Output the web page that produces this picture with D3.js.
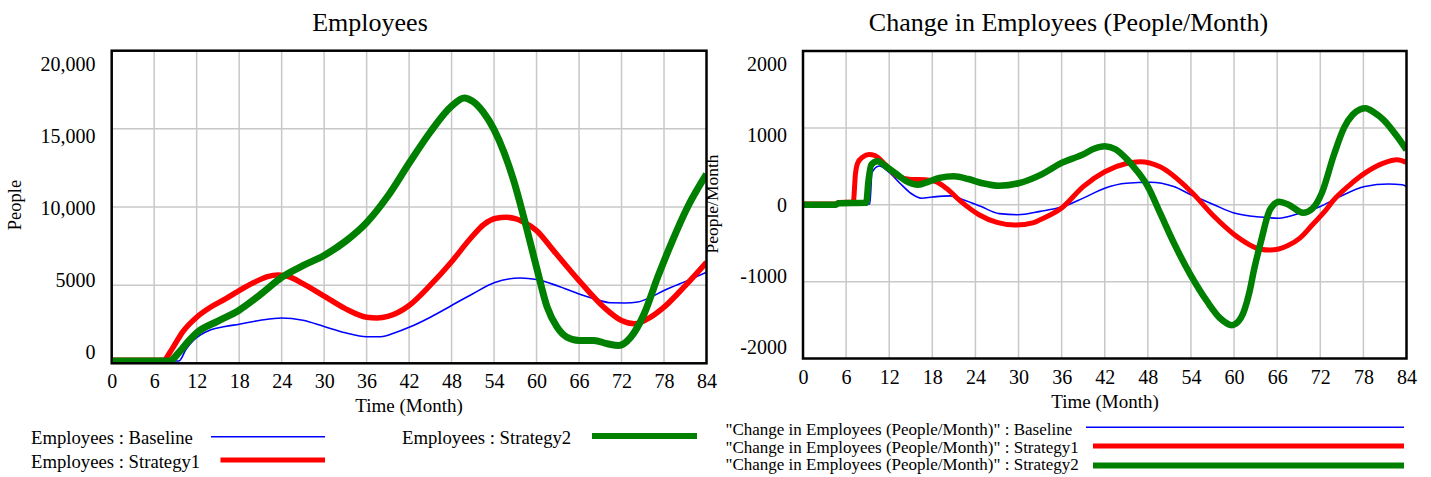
<!DOCTYPE html>
<html><head><meta charset="utf-8">
<script src="https://cdn.jsdelivr.net/npm/d3@7"></script>
<style>
body{margin:0;background:#fff}
svg{display:block}
text{font-family:"Liberation Serif","Times New Roman",serif;fill:#000}
</style>
</head><body>
<svg id="c" width="1431" height="477"></svg>
<script>
// ---------- data ----------
const monthTicks = [0,6,12,18,24,30,36,42,48,54,60,66,72,78,84];

const empTickValues = [0,5000,10000,15000,20000];
const empTickLabels = ["0","5000","10,000","15,000","20,000"];
const chgTickValues = [-2000,-1000,0,1000,2000];
const chgTickLabels = ["-2000","-1000","0","1000","2000"];

// Employees (People)
const empBaseT = [0,9.5,10.5,11.5,12.5,14,16,18,21,24,27,30,33,36,38,40,42,45,48,51,54,57.7,60,63,66,68,70.5,72.5,74.3,76,78,81.3,84];
const empBaseV = [150,150,900,1450,1800,2150,2350,2500,2750,2900,2750,2350,1950,1700,1700,1950,2300,2950,3700,4450,5150,5460,5360,4950,4440,4150,3870,3860,3920,4200,4660,5290,5820];

const empS1T = [0,7.3,8.5,10,12,14,16,18,20,22,23.5,25,27,30,33,36,37.5,39,42,45,48,50.6,52.6,54.3,55.7,57,58.2,60,62.4,66,69.5,72,73.8,76.1,78,80.8,84];
const empS1V = [200,200,900,2000,2950,3600,4100,4650,5150,5550,5650,5550,5100,4300,3500,2950,2900,3000,3700,5000,6500,7950,8900,9280,9340,9250,9020,8490,7210,5290,3590,2740,2530,2950,3590,4870,6460];

const empS2T = [0,8.2,9.5,11,12,15,18,21,24,27,30,33,36,39,42,45,48,49.8,51,52.5,54,55.4,56.8,58.2,60,61.5,62.9,64.3,66,68.1,70,71.6,73.3,75.2,77.1,79,81.3,84];
const empS2V = [150,150,700,1500,1950,2700,3400,4400,5500,6250,6900,7800,9000,10700,12800,14800,16450,16980,16750,16050,14950,13500,11650,9340,6140,3590,2310,1670,1460,1460,1250,1140,1670,3170,5500,7640,9970,12100];

// Change in Employees (People/Month)
const chgBaseT = [0,9.3,9.6,10.6,12,13.5,15,16.5,18,20.5,22.5,24.7,27.3,29.9,33,36,39,42,45,48.3,51.6,54,57.2,60,63.7,66.2,69.2,72,74.4,78.2,81.5,83.4,84];
const chgBaseV = [5,10,420,505,420,280,150,85,100,115,60,-20,-115,-130,-86,-30,86,215,279,292,236,129,0,-107,-160,-175,-108,-22,90,238,269,260,238];

const chgS1T = [0,4.5,5,7.0,7.3,7.6,8.3,9.2,10,11.5,13,15,17,18.5,20,22,24.5,27,29.5,32,33,36,39,42,45,46.9,49.7,54,57.2,60,63.7,65,67.5,69.2,71,72.5,73.9,76,78.2,80.8,82.7,84];
const chgS1V = [10,10,30,35,400,540,620,655,640,520,380,330,325,300,210,40,-130,-230,-265,-235,-195,-43,236,429,536,558,493,172,-150,-386,-579,-590,-530,-430,-250,-100,65,250,411,541,584,549];

const chgS2T = [0,4.5,5,8.8,9.1,9.5,10.4,11.5,13,14.5,16,17.5,19,21,23,25,27.3,30,33,36,39,40.5,42,43.5,45,46.4,48,49.7,51.6,54,56.3,58.1,59.7,60.9,62.1,62.8,63.7,65,66.3,67.6,69.6,70.9,72.2,73.9,75.3,76.5,77.5,78.3,79.5,80.8,82.7,84];
const chgS2V = [0,0,20,25,300,520,565,500,400,300,260,300,350,370,335,280,248,280,386,545,655,728,762,722,600,450,236,-107,-493,-923,-1265,-1480,-1566,-1480,-1150,-836,-493,-65,40,0,-105,-50,150,650,1000,1170,1240,1256,1200,1105,887,714];

const seriesNames = ["Baseline","Strategy1","Strategy2"];
const seriesColors = ["#0000ff","#ff0000","#008000"];

// ---------- drawing ----------
const svg = d3.select("#c");
const FONT = '"Liberation Serif","Times New Roman",serif';

function zip(t, v){ return t.map((d,i)=>[d, v[i]]); }

function panel(o){
  const g = svg.append("g");
  const x = d3.scaleLinear().domain([0,84]).range([o.x0, o.x1]);
  const y = d3.scaleLinear().domain(o.ydom).range([o.y1, o.y0]);
  const yl = d3.scaleLinear().domain(o.ydom).range([o.ly1, o.ly0]);

  // grid
  g.append("g").selectAll("line").data(monthTicks.slice(1,-1)).join("line")
    .attr("x1", d=>x(d)).attr("x2", d=>x(d)).attr("y1", o.y0).attr("y2", o.y1)
    .attr("stroke", "#c8c8c8").attr("stroke-width", 1.5);
  g.append("g").selectAll("line").data(o.yticks.slice(1,-1)).join("line")
    .attr("y1", d=>y(d)).attr("y2", d=>y(d)).attr("x1", o.x0).attr("x2", o.x1)
    .attr("stroke", "#c8c8c8").attr("stroke-width", 1.5);

  // clip
  const cid = "clip" + o.id;
  svg.append("clipPath").attr("id", cid).append("rect")
    .attr("x", o.x0).attr("y", o.y0).attr("width", o.x1-o.x0).attr("height", o.y1-o.y0);

  const line = d3.line().x(d=>x(d[0])).y(d=>y(d[1])).curve(d3.curveMonotoneX);
  const lg = g.append("g").attr("clip-path", `url(#${cid})`);
  o.series.forEach((s,i)=>{
    lg.append("path").datum(s).attr("d", line).attr("fill","none")
      .attr("stroke", seriesColors[i]).attr("stroke-width", o.widths[i])
      .attr("stroke-linejoin","round").attr("stroke-linecap","butt");
  });

  // border
  g.append("rect").attr("x", o.x0).attr("y", o.y0).attr("width", o.x1-o.x0).attr("height", o.y1-o.y0)
    .attr("fill","none").attr("stroke","#000").attr("stroke-width", 2.5);

  // x axis labels
  const xa = g.append("g").attr("transform", `translate(0,${o.xlabY})`)
    .call(d3.axisBottom(x).tickValues(monthTicks).tickSize(0).tickPadding(0).tickFormat(d3.format("d")));
  xa.select(".domain").remove();
  xa.attr("font-family", FONT).attr("font-size", 20);
  xa.selectAll("text").attr("fill","#000");

  // y axis labels
  const ya = g.append("g").attr("transform", `translate(${o.ylabX},0)`)
    .call(d3.axisLeft(yl).tickValues(o.yticks).tickSize(0).tickPadding(0).tickFormat((d,i)=>o.ylabels[i]));
  ya.select(".domain").remove();
  ya.attr("font-family", FONT).attr("font-size", 20);
  ya.selectAll("text").attr("fill","#000");

  // titles
  g.append("text").attr("x", o.titleX).attr("y", 31).attr("text-anchor","middle")
    .attr("font-size", 26).text(o.title);
  g.append("text").attr("x", o.timeX).attr("y", o.timeY).attr("text-anchor","middle")
    .attr("font-size", 19).text("Time (Month)");
  g.append("text").attr("transform", `translate(${o.yTitleX},${o.yTitleY}) rotate(-90)`)
    .attr("text-anchor","middle").attr("font-size", o.yTitleSize).text(o.yTitle);
}

panel({
  id: "L", x0: 111.7, x1: 706.5, y0: 50.7, y1: 363.3, ydom: [0,20000],
  ly0: 64, ly1: 351.7, yticks: empTickValues, ylabels: empTickLabels,
  series: [zip(empBaseT, empBaseV), zip(empS1T, empS1V), zip(empS2T, empS2V)],
  widths: [1.6, 5.5, 7],
  xlabY: 373.5, ylabX: 95.5,
  title: "Employees", titleX: 370,
  timeX: 409, timeY: 412,
  yTitle: "People", yTitleX: 21, yTitleY: 205, yTitleSize: 18.5
});

panel({
  id: "R", x0: 803, x1: 1406.5, y0: 51, y1: 358.5, ydom: [-2000,2000],
  ly0: 64, ly1: 346.7, yticks: chgTickValues, ylabels: chgTickLabels,
  series: [zip(chgBaseT, chgBaseV), zip(chgS1T, chgS1V), zip(chgS2T, chgS2V)],
  widths: [1.6, 5, 6.5],
  xlabY: 369.5, ylabX: 787,
  title: "Change in Employees (People/Month)", titleX: 1068.5,
  timeX: 1105, timeY: 408,
  yTitle: "People/Month", yTitleX: 718, yTitleY: 204, yTitleSize: 17.5
});

// ---------- legends ----------
const legL = svg.append("g").attr("font-size", 18.7);
const leftLegend = [
  {name: "Employees : " + seriesNames[0], tx: 31, ty: 444, lx1: 211, lx2: 325, ly: 436.7, w: 1.6, c: seriesColors[0]},
  {name: "Employees : " + seriesNames[1], tx: 31, ty: 468, lx1: 220.5, lx2: 325, ly: 460, w: 5, c: seriesColors[1]},
  {name: "Employees : " + seriesNames[2], tx: 402, ty: 444, lx1: 592, lx2: 697, ly: 436, w: 6, c: seriesColors[2]}
];
leftLegend.forEach(d=>{
  legL.append("text").attr("x", d.tx).attr("y", d.ty).text(d.name);
  legL.append("line").attr("x1", d.lx1).attr("x2", d.lx2).attr("y1", d.ly).attr("y2", d.ly)
    .attr("stroke", d.c).attr("stroke-width", d.w);
});

const legR = svg.append("g").attr("font-size", 17);
const rightRows = [429, 446.7, 464.3];
const rightLineY = [427.3, 446, 465.5];
const rightLineX1 = [1086, 1093, 1093];
const rightW = [1.6, 5, 6];
seriesNames.forEach((n,i)=>{
  legR.append("text").attr("x", 725.5).attr("y", rightRows[i] + 6)
    .text('"Change in Employees (People/Month)" : ' + n);
  legR.append("line").attr("x1", rightLineX1[i]).attr("x2", 1404).attr("y1", rightLineY[i]).attr("y2", rightLineY[i])
    .attr("stroke", seriesColors[i]).attr("stroke-width", rightW[i]);
});
</script>
</body></html>
